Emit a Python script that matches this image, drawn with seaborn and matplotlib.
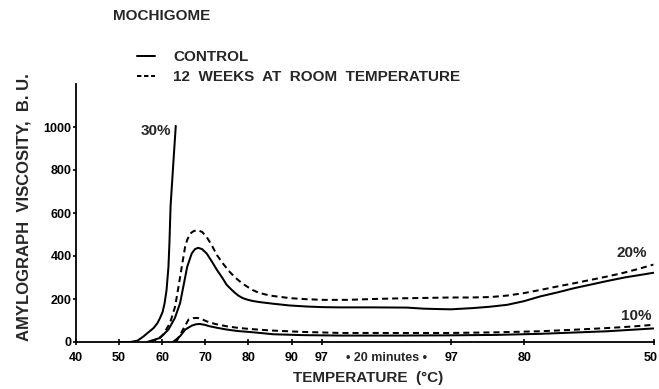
import numpy as np
import pandas as pd
import matplotlib
matplotlib.use("Agg")
import matplotlib.pyplot as plt
import matplotlib.transforms as mtransforms
import seaborn as sns
from matplotlib.lines import Line2D

# ---------------- data (x = minutes of the amylograph cycle, 1.5 degC/min) ----
ctrl30_t = [6.7, 8.4, 9.5, 10.4, 11.2, 12.0, 12.6, 13.0, 13.4, 13.7, 14.0, 14.3, 14.45, 14.63, 14.9, 15.2, 15.43]
ctrl30_v = [0, 0, 6, 25, 45, 65, 88, 112, 140, 180, 240, 350, 460, 634, 760, 900, 1005]

ctrl20_t = [11.0, 13.0, 14.3, 15.3, 16.1, 16.7, 17.2, 17.9, 18.4, 18.9, 19.5, 20.2, 21.0, 21.8, 22.6,
            23.3, 24.0, 24.6, 25.2, 25.8, 26.5, 27.3, 28.3, 30.5, 33.0, 35.7, 38.3, 40.9, 46.0, 51.2,
            53.8, 56.3, 58.0, 61.5, 64.0, 66.7, 69.3, 71.8, 74.5, 77.0, 79.6, 82.2, 85.0, 87.5, 89.3]
ctrl20_v = [0, 19, 58, 112, 181, 273, 350, 412, 432, 438, 432, 412, 375, 335, 300,
            266, 245, 228, 214, 204, 197, 191, 186, 178, 170, 165, 162, 161, 161, 160,
            155, 153, 152, 158, 164, 173, 190, 212, 231, 250, 267, 284, 301, 313, 322]

stor20_t = [11.5, 12.6, 13.5, 14.55, 15.33, 15.94, 16.36, 16.87, 17.2, 17.65, 18.2, 18.8, 19.5, 20.2,
            21.0, 21.8, 22.8, 23.8, 24.7, 25.6, 26.5, 27.3, 28.2, 29.3, 30.5, 33.1, 35.7, 38.3, 42.0,
            46.0, 50.0, 54.0, 57.9, 61.0, 64.1, 66.7, 69.2, 71.8, 74.4, 77.0, 79.6, 82.2, 84.7, 87.0, 89.3]
stor20_v = [0, 12, 35, 89, 165, 273, 350, 442, 475, 504, 516, 520, 512, 489,
            450, 404, 362, 325, 298, 275, 257, 242, 230, 221, 214, 204, 199, 196, 196,
            200, 203, 205, 207, 207, 209, 216, 227, 242, 258, 273, 289, 305, 322, 340, 360]

ctrl10_t = [15.0, 16.1, 16.9, 17.9, 18.5, 19.1, 19.9, 20.7, 22.0, 23.3, 25.0, 26.7, 28.5, 30.5,
            35.0, 40.9, 50.0, 57.9, 65.0, 71.8, 77.0, 82.2, 86.0, 89.3]
ctrl10_v = [0, 27, 58, 76, 82, 84, 80, 73, 65, 58, 51, 47, 42, 36,
            32, 30, 30, 31, 33, 38, 44, 50, 57, 63]

stor10_t = [15.5, 16.4, 17.4, 18.1, 18.8, 19.5, 20.2, 21.5, 23.3, 25.0, 26.7, 28.5, 30.5,
            35.0, 40.9, 50.0, 57.9, 65.0, 71.8, 77.0, 82.2, 86.0, 89.3]
stor10_v = [0, 50, 104, 111, 112, 106, 96, 84, 73, 66, 61, 57, 53,
            47, 42, 42, 42, 45, 50, 57, 65, 72, 80]

tick_pos = [0, 6.667, 13.333, 20, 26.667, 33.333, 38, 58, 69.333, 89.333]
tick_lab = ["40", "50", "60", "70", "80", "90", "97", "97", "80", "50"]
y_ticks = [0, 200, 400, 600, 800, 1000]

LAB_CTRL = "CONTROL"
LAB_STOR = "12  WEEKS  AT  ROOM  TEMPERATURE"

curves = [
    ("30% control", LAB_CTRL, ctrl30_t, ctrl30_v),
    ("20% control", LAB_CTRL, ctrl20_t, ctrl20_v),
    ("20% stored", LAB_STOR, stor20_t, stor20_v),
    ("10% control", LAB_CTRL, ctrl10_t, ctrl10_v),
    ("10% stored", LAB_STOR, stor10_t, stor10_v),
]
rows = []
for cid, stor, tt, vv in curves:
    for a, b in zip(tt, vv):
        rows.append({"curve": cid, "storage": stor, "minutes": a, "viscosity": b})
df = pd.DataFrame(rows)

# ---------------- figure ----------------
sns.set_style("ticks")
plt.rcParams["font.family"] = ["Liberation Sans", "DejaVu Sans"]
plt.rcParams["font.weight"] = "bold"

W, H = 659, 389
fig = plt.figure(figsize=(W / 100, H / 100), dpi=100)
ax_l, ax_r, ax_b, ax_t = 76, 653.6, 342, 84
ax = fig.add_axes([ax_l / W, 1 - ax_b / H, (ax_r - ax_l) / W, (ax_b - ax_t) / H])

LW = 1.45
sns.lineplot(data=df, x="minutes", y="viscosity", style="storage", units="curve",
             estimator=None, sort=False, color="black", linewidth=LW,
             style_order=[LAB_CTRL, LAB_STOR],
             dashes={LAB_CTRL: "", LAB_STOR: (3, 2)}, legend=False, ax=ax)

ax.set_xlim(0, 89.333)
ax.set_ylim(0, 1200)
ax.set_xlabel("")
ax.set_ylabel("")
ax.set_xticks(tick_pos)
ax.set_xticklabels(tick_lab)
ax.set_yticks(y_ticks)
ax.set_yticklabels([str(v) for v in y_ticks])
for s in ["top", "right"]:
    ax.spines[s].set_visible(False)
for s in ["left", "bottom"]:
    ax.spines[s].set_linewidth(1.3)
    ax.spines[s].set_color("black")
ax.tick_params(axis="x", direction="inout", length=4.7, width=1.2, labelsize=9, pad=5, colors="black")
ax.tick_params(axis="y", direction="out", length=2.4, width=1.2, labelsize=9, pad=0.8, colors="black")
for lbl in ax.get_xticklabels() + ax.get_yticklabels():
    lbl.set_fontweight("bold")
last = ax.get_xticklabels()[-1]
last.set_transform(last.get_transform() + mtransforms.ScaledTranslation(-3 / 100, 0, fig.dpi_scale_trans))

ax.text(48, -(358 - ax_b) / (ax_b - ax_t), "\u2022 20 minutes \u2022", transform=ax.get_xaxis_transform(),
        ha="center", va="center", fontsize=9, fontweight="bold")

ax.text(14.69, 981, "30%", ha="right", va="center", fontsize=11, fontweight="bold")
ax.text(86.0, 414, "20%", ha="center", va="center", fontsize=11, fontweight="bold")
ax.text(86.7, 121, "10%", ha="center", va="center", fontsize=11, fontweight="bold")

fig.text(113 / W, 1 - 16 / H, "MOCHIGOME", ha="left", va="center", fontsize=11, fontweight="bold")
fig.text(24 / W, 1 - 207 / H, "AMYLOGRAPH  VISCOSITY,  B. U.", rotation=90, ha="center", va="center",
         fontsize=12, fontweight="bold")
fig.text(368 / W, 1 - 378.3 / H, "TEMPERATURE  (\u00b0C)", ha="center", va="center", fontsize=11,
         fontweight="bold")

handles = [Line2D([], [], color="black", lw=LW),
           Line2D([], [], color="black", lw=LW, dashes=(2.2, 1.3))]
fig.legend(handles, [LAB_CTRL, LAB_STOR], loc="upper left", bbox_to_anchor=(137 / W, 1 - 50 / H),
           frameon=False, borderpad=0, borderaxespad=0, handlelength=1.18, handletextpad=1.18,
           labelspacing=0.42, prop={"size": 11, "weight": "bold"})

fig.savefig("out.png", dpi=100)
